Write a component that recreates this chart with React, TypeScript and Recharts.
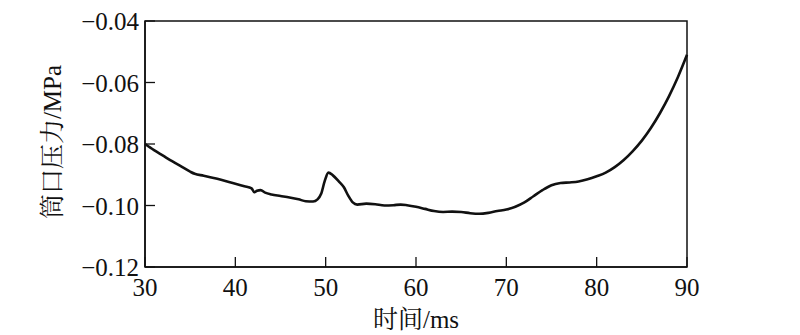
import React from 'react';
import { LineChart, Line, XAxis, YAxis, ReferenceArea } from 'recharts';

const timeMs = [30, 31, 32, 33, 34, 35, 35.5, 36.5, 38, 39.5, 41, 41.8, 42.1, 42.4, 42.8, 43.3, 44, 45, 46, 47, 47.8, 48.6, 49.1, 49.5, 49.9, 50.3, 50.8, 51.5, 52, 52.5, 53, 53.5, 54.5, 55.5, 56.5, 57.5, 58.3, 59, 60, 61, 62, 63, 64, 65, 66, 67, 68, 69, 70, 71, 72, 73, 74, 75, 76, 77, 78, 79, 80, 81, 82, 83, 84, 85, 86, 87, 88, 89, 90];
const pressure = [-0.08, -0.082, -0.0838, -0.0856, -0.0873, -0.089, -0.0897, -0.0903, -0.0913, -0.0925, -0.0937, -0.0944, -0.0957, -0.0952, -0.095, -0.0958, -0.0964, -0.0969, -0.0974, -0.098, -0.0986, -0.0987, -0.098, -0.0962, -0.092, -0.0893, -0.0902, -0.0923, -0.094, -0.0968, -0.099, -0.0997, -0.0994, -0.0996, -0.1, -0.0999, -0.0997, -0.0999, -0.1004, -0.1011, -0.1018, -0.1021, -0.102, -0.1021, -0.1025, -0.1027, -0.1024, -0.1018, -0.1013, -0.1004, -0.099, -0.097, -0.095, -0.0934, -0.0927, -0.0925, -0.0922, -0.0915, -0.0905, -0.0893, -0.0875, -0.0852, -0.0823, -0.0789, -0.0748, -0.07, -0.0645, -0.0582, -0.051];
const xTicks = [30, 40, 50, 60, 70, 80, 90];
const yTicks = [-0.12, -0.1, -0.08, -0.06, -0.04];
const xLabel = '时间/ms';
const yLabel = '筒口压力/MPa';

const data = timeMs.map((t, i) => ({ t, p: pressure[i] }));

const FONT = '"Liberation Serif", "Noto Serif CJK SC", "Noto Sans CJK SC", serif';
const INK = '#111';

const fmtY = (v: number) => (v < 0 ? '\u2212' : '') + Math.abs(v).toFixed(2);

const renderXTick = (props: any) => {
  const { x, y, payload } = props;
  return (
    <g key={'x' + payload.value}>
      <line x1={x} x2={x} y1={y} y2={y - 10} stroke={INK} strokeWidth={1.3} />
      <text x={x} y={y + 29} textAnchor="middle" fontSize={25} fontFamily={FONT} fill={INK}>
        {payload.value}
      </text>
    </g>
  );
};

const renderYTick = (props: any) => {
  const { x, y, payload } = props;
  return (
    <g key={'y' + payload.value}>
      <line x1={x} x2={x + 10} y1={y} y2={y} stroke={INK} strokeWidth={1.3} />
      <text x={x - 6} y={y + 9} textAnchor="end" fontSize={25} fontFamily={FONT} fill={INK}>
        {fmtY(payload.value)}
      </text>
    </g>
  );
};

export default function App() {
  return (
    <div style={{ position: 'absolute', left: 0, top: 0, width: 800, height: 335, background: '#fff' }}>
      <LineChart width={800} height={335} data={data} margin={{ top: 21, right: 113, bottom: 38, left: 85 }}>
        <XAxis
          dataKey="t"
          type="number"
          domain={[30, 90]}
          ticks={xTicks}
          height={30}
          tickSize={0}
          tickMargin={0}
          tickLine={false}
          axisLine={{ stroke: INK, strokeWidth: 1.5 }}
          tick={renderXTick}
          interval={0}
        />
        <YAxis
          type="number"
          domain={[-0.12, -0.04]}
          ticks={yTicks}
          width={60}
          tickSize={0}
          tickMargin={0}
          tickLine={false}
          axisLine={{ stroke: INK, strokeWidth: 1.5 }}
          tick={renderYTick}
          interval={0}
          allowDataOverflow
        />
        <ReferenceArea x1={30} x2={90} y1={-0.12} y2={-0.04} fill="none" stroke={INK} strokeWidth={1.5} ifOverflow="visible" />
        <Line
          dataKey="p"
          type="monotone"
          stroke={INK}
          strokeWidth={2.6}
          dot={false}
          isAnimationActive={false}
        />
      </LineChart>
      <svg width={800} height={335} style={{ position: 'absolute', left: 0, top: 0, pointerEvents: 'none' }}>
        <text x={416} y={328} textAnchor="middle" fontSize={25} fontFamily={FONT} fill={INK}>
          {xLabel}
        </text>
        <text
          x={0}
          y={0}
          transform="translate(61,142) rotate(-90)"
          textAnchor="middle"
          fontSize={25}
          fontFamily={FONT}
          fill={INK}
        >
          {yLabel}
        </text>
      </svg>
    </div>
  );
}
